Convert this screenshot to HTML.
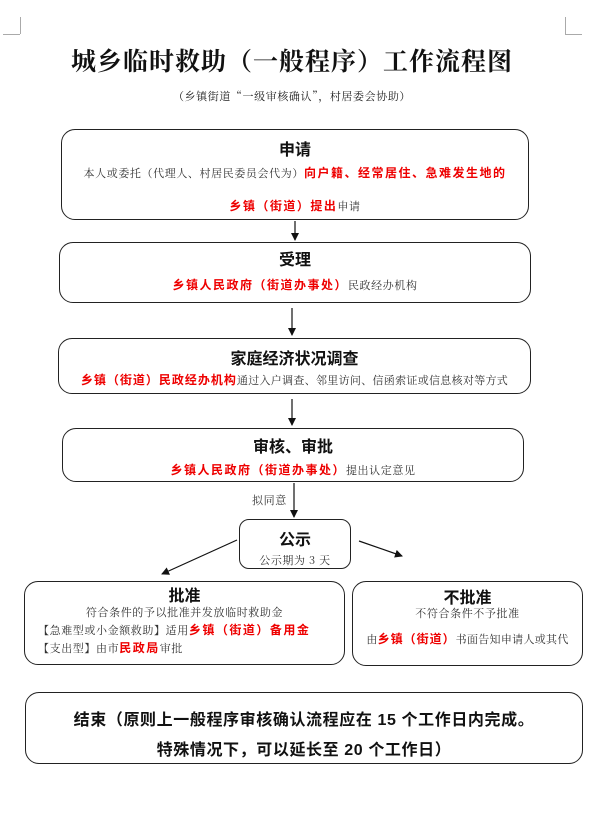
<!DOCTYPE html>
<html><head><meta charset="utf-8"><style>
body{margin:0;width:614px;height:816px;background:#fff;position:relative;font-family:"Liberation Sans","Noto Sans CJK SC",sans-serif;color:#222;overflow:hidden}
.a{position:absolute}
.box{position:absolute;border:1.3px solid #222;border-radius:14px;box-sizing:border-box;text-align:center}
.h{font-weight:bold;font-size:16px;color:#111}
.t{font-size:11px;font-family:"Noto Serif CJK SC","Noto Sans CJK SC",serif;color:#333;letter-spacing:0.6px;white-space:nowrap}
.r{color:#e00;font-weight:bold;font-family:"Noto Sans CJK SC",sans-serif;font-size:12px;letter-spacing:1.5px}
</style></head><body>
<div class="a" style="left:3px;top:34px;width:17px;border-top:1px solid #aaa"></div>
<div class="a" style="left:20px;top:17px;height:17px;border-left:1px solid #aaa"></div>
<div class="a" style="left:565px;top:34px;width:17px;border-top:1px solid #aaa"></div>
<div class="a" style="left:565px;top:17px;height:17px;border-left:1px solid #aaa"></div>
<div class="a" style="left:0;width:584px;top:42px;text-align:center;font-size:25px;font-weight:bold;font-family:'Noto Serif CJK SC',serif;color:#111;letter-spacing:1px">城乡临时救助（一般程序）工作流程图</div>
<div class="a t" style="left:0;width:584px;top:88px;text-align:center;color:#222">（乡镇街道“一级审核确认”，村居委会协助）</div>

<div class="box" style="left:61px;top:129px;width:468px;height:91px">
<div class="h" style="margin-top:6px">申请</div>
<div class="t" style="margin-top:4px">本人或委托（代理人、村居民委员会代为）<span class="r">向户籍、经常居住、急难发生地的</span></div>
<div class="t" style="margin-top:16px"><span class="r">乡镇（街道）提出</span>申请</div>
</div>
<div class="box" style="left:59px;top:242px;width:472px;height:61px">
<div class="h" style="margin-top:3px">受理</div>
<div class="t" style="margin-top:6px"><span class="r">乡镇人民政府（街道办事处）</span>民政经办机构</div>
</div>
<div class="box" style="left:58px;top:338px;width:473px;height:56px">
<div class="h" style="margin-top:6px">家庭经济状况调查</div>
<div class="t" style="margin-top:2px;letter-spacing:0.3px"><span class="r" style="letter-spacing:1px">乡镇（街道）民政经办机构</span>通过入户调查、邻里访问、信函索证或信息核对等方式</div>
</div>
<div class="box" style="left:62px;top:428px;width:462px;height:54px">
<div class="h" style="margin-top:4px">审核、审批</div>
<div class="t" style="margin-top:4px"><span class="r">乡镇人民政府（街道办事处）</span>提出认定意见</div>
</div>
<div class="a t" style="left:252px;top:492px">拟同意</div>
<div class="box" style="left:239px;top:519px;width:112px;height:50px;border-radius:10px">
<div class="h" style="margin-top:6px">公示</div>
<div class="t" style="margin-top:2px">公示期为 3 天</div>
</div>
<div class="box" style="left:24px;top:581px;width:321px;height:84px">
<div class="h" style="margin-top:0px">批准</div>
<div class="t" style="margin-top:-2px">符合条件的予以批准并发放临时救助金</div>
<div class="t" style="text-align:left;margin-left:13px;margin-top:1px">【急难型或小金额救助】适用<span class="r">乡镇（街道）备用金</span></div>
<div class="t" style="text-align:left;margin-left:13px;margin-top:1px">【支出型】由市<span class="r">民政局</span>审批</div>
</div>
<div class="box" style="left:352px;top:581px;width:231px;height:85px">
<div class="h" style="margin-top:2px">不批准</div>
<div class="t" style="margin-top:-3px">不符合条件不予批准</div>
<div class="t" style="margin-top:9px;letter-spacing:0.3px">由<span class="r" style="letter-spacing:1px">乡镇（街道）</span>书面告知申请人或其代</div>
</div>
<div class="box" style="left:25px;top:692px;width:558px;height:72px">
<div class="h" style="margin-top:13px;font-size:16px;letter-spacing:0.6px">结束（原则上一般程序审核确认流程应在 15 个工作日内完成。</div>
<div class="h" style="margin-top:6px;font-size:16px;letter-spacing:0.6px">特殊情况下，可以延长至 20 个工作日）</div>
</div>
<svg class="a" style="left:0;top:0" width="614" height="816">
<defs><marker id="m" markerWidth="8" markerHeight="8" refX="7" refY="4" orient="auto" markerUnits="userSpaceOnUse"><path d="M0,0 L8,4 L0,8z" fill="#111"/></marker></defs>
<g stroke="#111" stroke-width="1.2" marker-end="url(#m)">
<line x1="295" y1="221" x2="295" y2="240"/>
<line x1="292" y1="308" x2="292" y2="335"/>
<line x1="292" y1="399" x2="292" y2="425"/>
<line x1="294" y1="483" x2="294" y2="517"/>
<line x1="237" y1="540" x2="162" y2="574"/>
<line x1="359" y1="541" x2="402" y2="556"/>
</g></svg>
</body></html>
